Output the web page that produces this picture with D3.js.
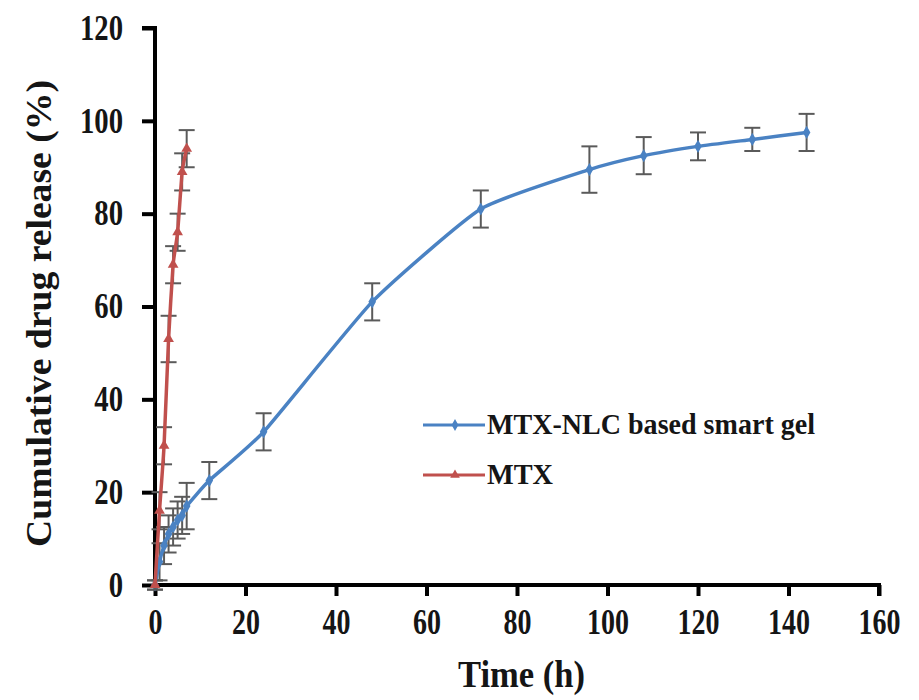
<!DOCTYPE html>
<html>
<head>
<meta charset="utf-8">
<script src="https://cdn.jsdelivr.net/npm/d3@7"></script>
<style>
  body { margin: 0; background: #fff; }
  text { font-family: "Liberation Serif", "Times New Roman", serif; font-weight: bold; }
</style>
</head>
<body>
<div id="chart"></div>
<script>
//Time points (h) and cumulative release (%)
const nlcTime = [0, 1, 2, 3, 4, 5, 6, 7, 12, 24, 48, 72, 96, 108, 120, 132, 144];
const nlcRelease = [0, 5, 8.5, 11, 12.5, 14, 15, 17, 22.5, 33, 61, 81, 89.5, 92.5, 94.5, 96, 97.5];
const nlcErr = [1, 4, 4, 4, 4, 4, 4, 5, 4, 4, 4, 4, 5, 4, 3, 2.5, 4];

const mtxTime = [0, 1, 2, 3, 4, 5, 6, 7];
const mtxRelease = [0, 16, 30, 53, 69, 76, 89, 94];
const mtxErr = [1, 4, 4, 5, 4, 4, 4, 4];

const xTicks = [0, 20, 40, 60, 80, 100, 120, 140, 160];
const yTicks = [0, 20, 40, 60, 80, 100, 120];

const seriesNames = ["MTX-NLC based smart gel", "MTX"];

const width = 919, height = 700;
const margin = {top: 28, left: 155};
const ink = "#151515";

const svg = d3.select("#chart").append("svg")
    .attr("width", width)
    .attr("height", height);

const x = d3.scaleLinear().domain([0, 160]).range([margin.left, 879]);
const y = d3.scaleLinear().domain([0, 120]).range([585, margin.top]);

//Axes
const xAxis = svg.append("g")
    .attr("transform", "translate(0," + y(0) + ")")
    .call(d3.axisBottom(x).tickValues(xTicks).tickSize(11).tickPadding(13).tickFormat(d3.format("d")));
const yAxis = svg.append("g")
    .attr("transform", "translate(" + x(0) + ",0)")
    .call(d3.axisLeft(y).tickValues(yTicks).tickSize(13).tickPadding(19).tickFormat(d3.format("d")));

[xAxis, yAxis].forEach(ax => {
    ax.select(".domain").attr("stroke", "#000").attr("stroke-width", 4);
    ax.selectAll(".tick line").attr("stroke", "#000").attr("stroke-width", 4);
    ax.selectAll(".tick text")
	.attr("fill", ink)
	.style("font-size", "35px")
	.style("font-family", "Liberation Serif")
	.style("font-weight", "bold");
});
//Squeeze tick labels horizontally, the source figure is stretched tall
xAxis.selectAll(".tick text").attr("transform", "scale(0.8,1)");
yAxis.selectAll(".tick text").attr("transform", "scale(0.82,1)")
    .attr("x", -32 / 0.82);
xAxis.select(".domain").attr("d", "M" + x(0) + ",0H" + x(160) + "V11");
yAxis.select(".domain").attr("d", "M-13," + y(120) + "H0V" + y(0));

//Axis titles
svg.append("text")
    .attr("x", 458)
    .attr("y", 687)
    .attr("textLength", 127)
    .attr("lengthAdjust", "spacingAndGlyphs")
    .style("font-size", "38px")
    .attr("fill", ink)
    .text("Time (h)");

svg.append("text")
    .attr("transform", "translate(51,547) rotate(-90)")
    .attr("textLength", 467)
    .attr("lengthAdjust", "spacingAndGlyphs")
    .style("font-size", "36px")
    .attr("fill", ink)
    .text("Cumulative  drug release (%)");

function drawSeries(times, vals, errs, color, marker) {
    let pts = times.map((t, i) => ({t: t, v: vals[i], e: errs[i]}));

    //Error bars
    let eb = svg.append("g").attr("stroke", "#5a5a5a").attr("stroke-width", 2);
    pts.forEach(p => {
	eb.append("line")
	    .attr("x1", x(p.t)).attr("x2", x(p.t))
	    .attr("y1", y(p.v - p.e)).attr("y2", y(p.v + p.e));
	[p.v - p.e, p.v + p.e].forEach(v => {
	    eb.append("line")
		.attr("x1", x(p.t) - 8).attr("x2", x(p.t) + 8)
		.attr("y1", y(v)).attr("y2", y(v));
	});
    });

    let line = d3.line()
	.x(d => x(d.t))
	.y(d => y(d.v))
	.curve(d3.curveCardinal.tension(0.5));

    svg.append("path")
	.datum(pts)
	.attr("fill", "none")
	.attr("stroke", color)
	.attr("stroke-width", 3.5)
	.attr("d", line);

    svg.append("g").selectAll("path")
	.data(pts)
	.join("path")
	.attr("transform", d => "translate(" + x(d.t) + "," + y(d.v) + ")")
	.attr("d", d3.symbol().type(marker).size(50))
	.attr("fill", color);
}

drawSeries(nlcTime, nlcRelease, nlcErr, "#4a82c3", d3.symbolDiamond);
drawSeries(mtxTime, mtxRelease, mtxErr, "#c0504d", d3.symbolTriangle);

//Legend
const legendColors = ["#4a82c3", "#c0504d"];
const legendMarkers = [d3.symbolDiamond, d3.symbolTriangle];
const legendWidths = [328, 66];
const legend = svg.append("g").attr("transform", "translate(423,425)");
seriesNames.forEach((name, i) => {
    let g = legend.append("g").attr("transform", "translate(0," + (i * 50) + ")");
    g.append("line")
	.attr("x1", 0).attr("x2", 62)
	.attr("stroke", legendColors[i])
	.attr("stroke-width", 3);
    g.append("path")
	.attr("transform", "translate(32,0)")
	.attr("d", d3.symbol().type(legendMarkers[i]).size(40))
	.attr("fill", legendColors[i]);
    g.append("text")
	.attr("x", 64)
	.attr("y", 9)
	.attr("textLength", legendWidths[i])
	.attr("lengthAdjust", "spacingAndGlyphs")
	.style("font-size", "29px")
	.attr("fill", ink)
	.text(name);
});
</script>
</body>
</html>
